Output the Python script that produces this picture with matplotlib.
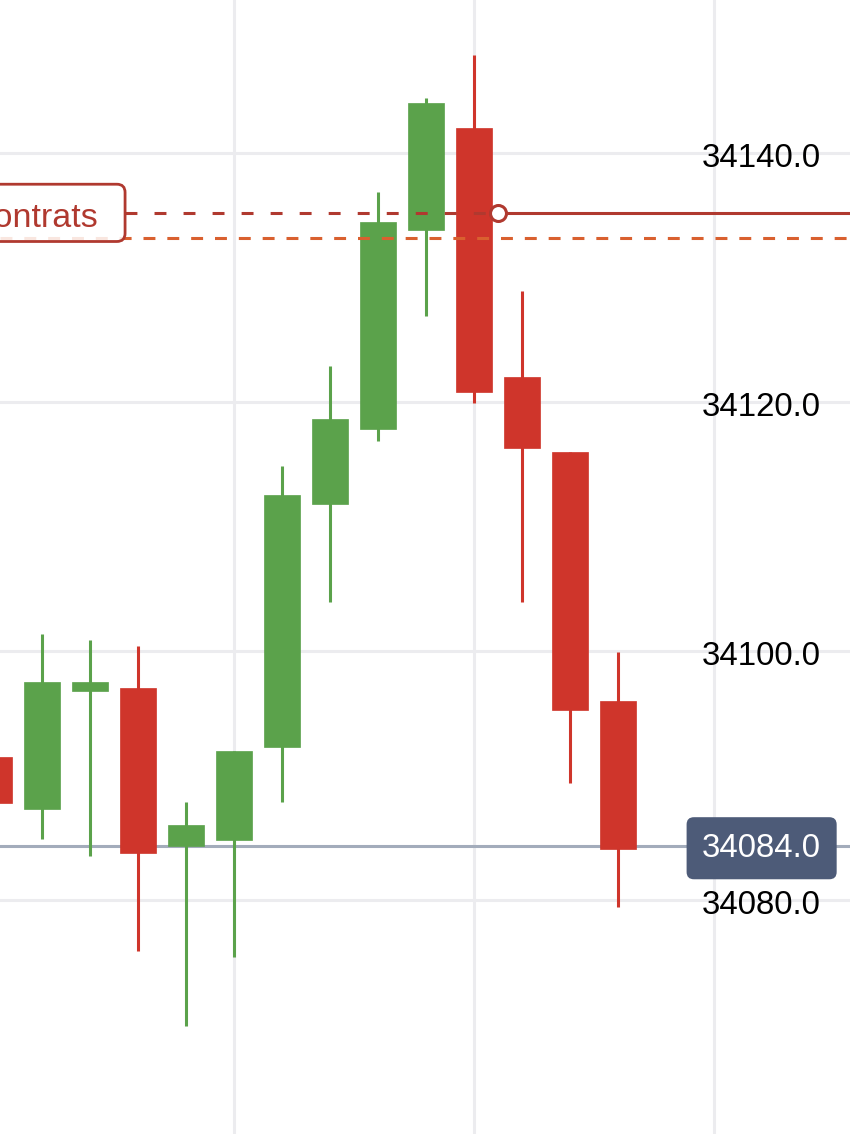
import matplotlib.pyplot as plt
from matplotlib.patches import FancyBboxPatch

plt.rcParams['font.family'] = ['Liberation Sans', 'DejaVu Sans']

# candle data (index 0 is cut off at the left edge)
opens = [34091.5, 34087.3, 34096.8, 34097.0, 34084.3, 34084.8, 34092.3,
         34111.8, 34117.8, 34133.8, 34142.0, 34122.0, 34116.0, 34096.0]
highs = [34093.0, 34101.4, 34100.9, 34100.4, 34087.9, 34092.0, 34114.9,
         34122.9, 34136.9, 34144.4, 34147.9, 34128.9, 34116.0, 34099.9]
lows = [34086.0, 34084.9, 34083.5, 34075.9, 34069.9, 34075.4, 34087.9,
        34103.9, 34116.9, 34126.9, 34119.9, 34103.9, 34089.4, 34079.4]
closes = [34087.8, 34097.5, 34097.5, 34083.8, 34086.0, 34092.0, 34112.5,
          34118.6, 34134.5, 34144.0, 34120.8, 34116.3, 34095.3, 34084.1]

y_ticks = [34080, 34100, 34120, 34140]
last_price = 34084.3
last_label = "34084.0"
position_price = 34135.2
position_x = 10.49
order_price = 34133.2
position_text = "2 contrats"

green = "#5ba24b"
red = "#cf352b"
dark_red = "#b0392f"
orange = "#d9602f"

fig = plt.figure(figsize=(8.5, 11.34), dpi=100)
ax = fig.add_axes([0, 0, 1, 1])
ax.set_xlim(0.125, 17.83)
ax.set_ylim(34061.2, 34152.3)

ax.set_yticks(y_ticks)
ax.set_xticks([5, 10, 15])
ax.grid(True, color="#ececef", lw=2.2, zorder=0)
ax.set_axisbelow(True)
ax.tick_params(length=0, labelleft=False, labelbottom=False)
for s in ax.spines.values():
    s.set_visible(False)

# last price line, under the candles
ax.axhline(last_price, color="#a3acbb", lw=2.2, zorder=1)

xs = list(range(len(opens)))
for i in xs:
    o, h, l, c = opens[i], highs[i], lows[i], closes[i]
    col = green if c >= o else red
    ax.vlines(i, l, h, color=col, lw=2.2, zorder=2)
    ax.bar(i, abs(c - o), bottom=min(o, c), width=0.76, color=col,
           edgecolor=col, lw=0.5, zorder=3)

# order / position lines
ax.axhline(order_price, color=orange, lw=2.2, ls=(0, (3.9, 3.9)), zorder=4)
box_right = 2.73
ax.hlines(position_price, box_right, position_x, color=dark_red, lw=2.2,
          ls=(0, (3.9, 5.6)), zorder=4)
ax.hlines(position_price, position_x, 17.83, color=dark_red, lw=2.2, zorder=4)
ax.plot(position_x, position_price, marker="o", ms=11.5, mfc="white",
        mec=dark_red, mew=2.2, zorder=6)

box = FancyBboxPatch((-2.0, position_price - 2.3), box_right + 2.0, 4.6,
                     boxstyle="round,pad=0,rounding_size=0.17",
                     mutation_aspect=3.86, fc=(1, 1, 1, 0.85),
                     ec=dark_red, lw=2.0, zorder=5)
ax.add_patch(box)
ax.annotate(position_text, (2.167, position_price), xytext=(0, -9.9),
            textcoords="offset points", color=dark_red, fontsize=24.5,
            ha="right", va="baseline", zorder=6)

# price scale labels
for t in y_ticks:
    ax.annotate("%.1f" % t, (14.75, t), xytext=(0, -9.9),
                textcoords="offset points", fontsize=23.8, color="black",
                ha="left", va="baseline", zorder=7)

ax.annotate(last_label, (14.75, last_price), xytext=(0, -7.4),
            textcoords="offset points", fontsize=23.8, color="white",
            ha="left", va="baseline", zorder=8,
            bbox=dict(boxstyle="round,pad=0.47,rounding_size=0.22",
                      fc="#4d5b78", ec="none"))

fig.savefig("out.png", dpi=100)
